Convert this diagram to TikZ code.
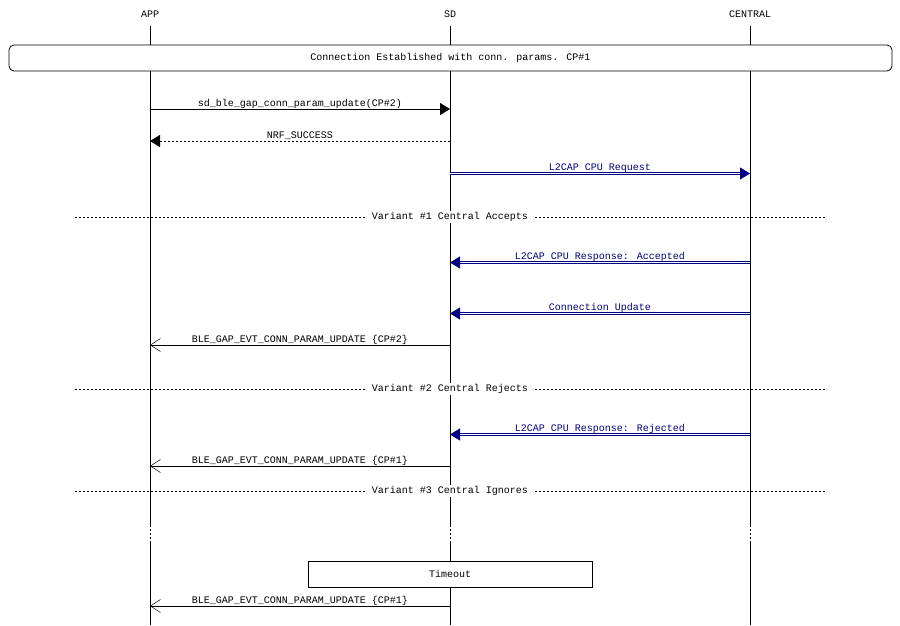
\documentclass[tikz,border=0pt]{standalone}
\usepackage{fontspec}
\setmainfont{Liberation Mono}
\usetikzlibrary{arrows.meta}
\definecolor{urlblue}{RGB}{0,0,128}
\tikzset{
  head/.style={minimum height=24pt, inner sep=0pt},
  lbl/.style={anchor=base, yshift=3pt, inner sep=0pt},
  url/.style={lbl, text=urlblue},
  call/.style={-{Triangle[length=10pt,width=12pt]}},
  reply/.style={call, dash pattern=on 2.5pt off 1.5pt},
  event/.style={-{Straight Barb[length=10pt,width=13pt,line width=0.5pt]}},
  cpu/.style={draw=urlblue, double=white, double distance=1pt, line width=0.8pt,
    -{Triangle[length=10pt,width=12pt,fill=urlblue]}},
  sep/.style={dash pattern=on 2pt off 2pt},
  seplbl/.style={fill=white, inner xsep=7pt, inner ysep=1pt},
  gap/.style={dash pattern=on 2pt off 2pt}
}
\begin{document}
\begin{tikzpicture}[x=1pt, y=-1pt, line width=0.8pt, font=\fontsize{10}{12}\selectfont]
\useasboundingbox (0,0) rectangle (900,625);
% Lifelines
\node[head] (app) at (150,14) {APP};
\node[head] (sd) at (450,14) {SD};
\node[head] (central) at (750,14) {CENTRAL};
\foreach \l in {app,sd,central} {
  \draw (\l.south) -- (\l |- 0,525);
  \draw[gap] (\l |- 0,525) -- (\l |- 0,542);
  \draw (\l |- 0,542) -- (\l |- 0,625);
}

% Connection established
\node[draw, fill=white, rounded corners=5pt, minimum width=883pt, minimum height=26pt]
  (conn) at (450.5,58) {Connection Established with conn. params. CP\#1};

% Request
\draw[call] (app |- 0,109) -- node[lbl] {sd\_ble\_gap\_conn\_param\_update(CP\#2)} (sd |- 0,109);
\draw[reply] (sd |- 0,141) -- node[lbl] {NRF\_SUCCESS} (app |- 0,141);
\draw[cpu] (sd |- 0,173.5) -- node[url] (req) {\underline{L2CAP CPU Request}} (central |- 0,173.5);

% Variant 1
\node[seplbl] (var1) at (450,217) {Variant \#1 Central Accepts};
\draw[sep] (75,217) -- (var1.west);
\draw[sep] (var1.east) -- (825,217);
\draw[cpu] (central |- 0,262.5) -- node[url] (acc) {\underline{L2CAP CPU Response: Accepted}} (sd |- 0,262.5);
\draw[cpu] (central |- 0,313.5) -- node[url] (upd) {\underline{Connection Update}} (sd |- 0,313.5);
\draw[event] (sd |- 0,345) -- node[lbl] {BLE\_GAP\_EVT\_CONN\_PARAM\_UPDATE \{CP\#2\}} (app |- 0,345);

% Variant 2
\node[seplbl] (var2) at (450,389) {Variant \#2 Central Rejects};
\draw[sep] (75,389) -- (var2.west);
\draw[sep] (var2.east) -- (825,389);
\draw[cpu] (central |- 0,434.5) -- node[url] (rej) {\underline{L2CAP CPU Response: Rejected}} (sd |- 0,434.5);
\draw[event] (sd |- 0,466) -- node[lbl] {BLE\_GAP\_EVT\_CONN\_PARAM\_UPDATE \{CP\#1\}} (app |- 0,466);

% Variant 3
\node[seplbl] (var3) at (450,491) {Variant \#3 Central Ignores};
\draw[sep] (75,491) -- (var3.west);
\draw[sep] (var3.east) -- (825,491);
\node[draw, fill=white, minimum width=284pt, minimum height=26pt] (timeout) at (450,574) {Timeout};
\draw[event] (sd |- 0,606) -- node[lbl] {BLE\_GAP\_EVT\_CONN\_PARAM\_UPDATE \{CP\#1\}} (app |- 0,606);
\end{tikzpicture}
\end{document}
